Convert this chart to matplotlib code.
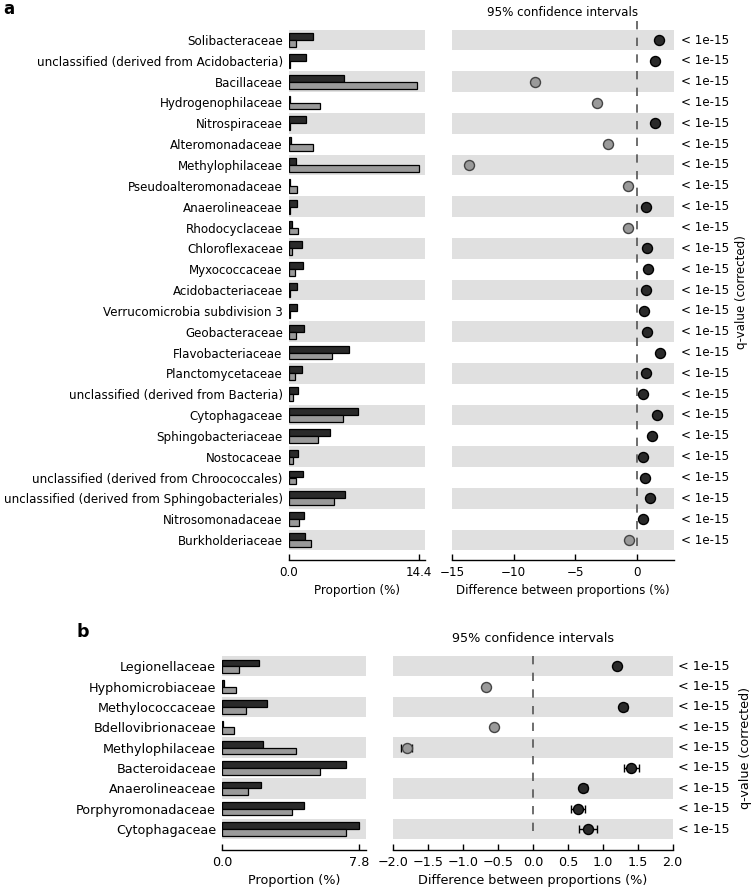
import matplotlib
matplotlib.use("Agg")
import matplotlib.pyplot as plt
import matplotlib.transforms as mtransforms
import numpy as np

plt.rcParams['font.family'] = ['DejaVu Sans']

# ---------------- data: panel a ----------------
fam_a = ["Solibacteraceae", "unclassified (derived from Acidobacteria)", "Bacillaceae",
         "Hydrogenophilaceae", "Nitrospiraceae", "Alteromonadaceae", "Methylophilaceae",
         "Pseudoalteromonadaceae", "Anaerolineaceae", "Rhodocyclaceae", "Chloroflexaceae",
         "Myxococcaceae", "Acidobacteriaceae", "Verrucomicrobia subdivision 3",
         "Geobacteraceae", "Flavobacteriaceae", "Planctomycetaceae",
         "unclassified (derived from Bacteria)", "Cytophagaceae", "Sphingobacteriaceae",
         "Nostocaceae", "unclassified (derived from Chroococcales)",
         "unclassified (derived from Sphingobacteriales)", "Nitrosomonadaceae",
         "Burkholderiaceae"]
prop1_a = [2.69, 1.85, 6.09, 0.15, 1.85, 0.2, 0.78, 0.1, 0.85, 0.3, 1.4, 1.51, 0.92,
           0.85, 1.66, 6.64, 1.4, 0.96, 7.6, 4.54, 0.96, 1.51, 6.2, 1.62, 1.8]
prop2_a = [0.74, 0.12, 14.2, 3.43, 0.12, 2.69, 14.4, 0.9, 0.1, 1.05, 0.35, 0.66, 0.12,
           0.1, 0.74, 4.8, 0.66, 0.4, 5.94, 3.25, 0.4, 0.78, 4.98, 1.1, 2.4]
diff_a = [1.84, 1.49, -8.27, -3.2, 1.49, -2.31, -13.66, -0.68, 0.76, -0.68, 0.86, 0.92,
          0.73, 0.62, 0.86, 1.9, 0.76, 0.54, 1.68, 1.27, 0.54, 0.65, 1.08, 0.54, -0.6]
ci_a = [0.1, 0.08, 0.2, 0.12, 0.08, 0.1, 0.25, 0.06, 0.06, 0.06, 0.07, 0.07, 0.06,
        0.06, 0.07, 0.15, 0.07, 0.06, 0.15, 0.12, 0.06, 0.07, 0.14, 0.06, 0.08]
q_a = ["< 1e-15"] * len(fam_a)

# ---------------- data: panel b ----------------
fam_b = ["Legionellaceae", "Hyphomicrobiaceae", "Methylococcaceae", "Bdellovibrionaceae",
         "Methylophilaceae", "Bacteroidaceae", "Anaerolineaceae", "Porphyromonadaceae",
         "Cytophagaceae"]
prop1_b = [2.12, 0.09, 2.58, 0.06, 2.35, 7.04, 2.22, 4.64, 7.8]
prop2_b = [0.93, 0.77, 1.34, 0.69, 4.2, 5.6, 1.49, 3.98, 7.04]
diff_b = [1.2, -0.68, 1.29, -0.56, -1.81, 1.41, 0.72, 0.65, 0.79]
ci_b = [0.04, 0.03, 0.05, 0.03, 0.08, 0.11, 0.05, 0.10, 0.13]
q_b = ["< 1e-15"] * len(fam_b)

diff_ticks_a = [-15, -10, -5, 0]
diff_ticks_b = [-2.0, -1.5, -1.0, -0.5, 0.0, 0.5, 1.0, 1.5, 2.0]

DARK = "#2a2a2a"
GRAY = "#9a9a9a"
BAND = "#e0e0e0"

W, H = 752, 891
fig = plt.figure(figsize=(W / 100, H / 100), dpi=100)


def px_axes(x0, x1, ytop, ybot):
    return fig.add_axes([x0 / W, (H - ybot) / H, (x1 - x0) / W, (ybot - ytop) / H])


def draw_panel(axL, axR, fams, p1, p2, diff, ci, qv, dticks, dlim, ylim, fs,
               dash_range, qoff, ms):
    n = len(fams)
    y = np.arange(n)
    for ax in (axL, axR):
        for i in range(0, n, 2):
            ax.axhspan(i - 0.5, i + 0.5, color=BAND, zorder=0, lw=0)
        ax.set_ylim(*ylim)
        for s in ("top", "left", "right"):
            ax.spines[s].set_visible(False)
        ax.spines["bottom"].set_linewidth(1.0)
        ax.tick_params(axis="x", direction="in", length=4, width=1, labelsize=fs, pad=4)
        ax.set_facecolor("none")

    # proportions
    bh = 0.33
    axL.barh(y - bh / 2, p1, height=bh, color=DARK, edgecolor="black", lw=0.9, zorder=2)
    axL.barh(y + bh / 2, p2, height=bh, color=GRAY, edgecolor="black", lw=0.9, zorder=2)
    pmax = max(max(p1), max(p2))
    axL.set_xlim(0, pmax * 1.05)
    axL.set_xticks([0, pmax])
    axL.set_xticklabels(["%.1f" % 0, "%.1f" % pmax])
    axL.set_yticks(y)
    axL.set_yticklabels(fams, fontsize=fs)
    axL.tick_params(axis="y", length=0, pad=4.5)
    axL.set_xlabel("Proportion (%)", fontsize=fs, labelpad=4)

    # differences
    axR.plot([0, 0], dash_range, ls=(0, (5, 5)), color="#555555", lw=1.2, zorder=1)
    for i in range(n):
        pos = diff[i] > 0
        fc = DARK if pos else GRAY
        ec = "black" if pos else "#444444"
        axR.errorbar(diff[i], i, xerr=ci[i], fmt="o", ms=ms, mfc=fc, mec=ec, mew=1.0,
                     ecolor="black", elinewidth=1.0, capsize=3, capthick=1.0, zorder=3)
    axR.set_xlim(*dlim)
    axR.set_xticks(dticks)
    axR.set_yticks([])
    axR.set_xlabel("Difference between proportions (%)", fontsize=fs, labelpad=4)
    for i in range(n):
        axR.annotate(qv[i], xy=(1, i), xycoords=("axes fraction", "data"),
                     xytext=(qoff, 0), textcoords="offset pixels",
                     ha="left", va="center", fontsize=fs)


# panel a
axLa = px_axes(289, 425.5, 20, 560)
axRa = px_axes(452.3, 673.6, 20, 560)
draw_panel(axLa, axRa, fam_a, prop1_a, prop2_a, diff_a, ci_a, q_a, diff_ticks_a,
           (-15, 3.0), (24.96, -0.96), 8.6, (-0.9, 24.5), 7, 7.2)
fig.text(563 / W, 1 - 13 / H, "95% confidence intervals", ha="center", va="center", fontsize=8.6)
fig.text(741.5 / W, 1 - 292 / H, "q-value (corrected)", rotation=90, ha="center", va="center", fontsize=8.6)
fig.text(3 / W, 1 - 9 / H, "a", fontsize=12, fontweight="bold", ha="left", va="center")

# panel b
axLb = px_axes(222.3, 365.7, 646.5, 850)
axRb = px_axes(393.3, 672.7, 646.5, 850)
draw_panel(axLb, axRb, fam_b, prop1_b, prop2_b, diff_b, ci_b, q_b, diff_ticks_b,
           (-2.0, 2.0), (9.03, -0.97), 9.2, (-0.5, 8.5), 5, 7.2)
fig.text(533 / W, 1 - 639 / H, "95% confidence intervals", ha="center", va="center", fontsize=9.2)
fig.text(745 / W, 1 - 748 / H, "q-value (corrected)", rotation=90, ha="center", va="center", fontsize=9.2)
fig.text(77 / W, 1 - 632 / H, "b", fontsize=12.5, fontweight="bold", ha="left", va="center")

fig.savefig("out.png", dpi=100)
